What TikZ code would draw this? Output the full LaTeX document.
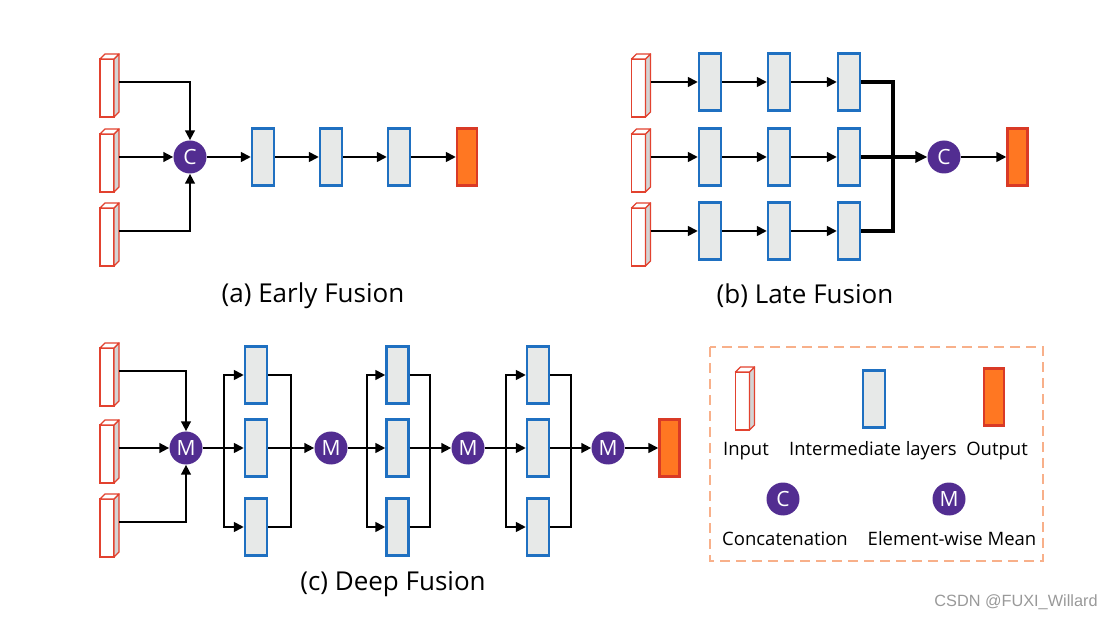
\documentclass[tikz,border=0pt]{standalone}
\usepackage{fontspec}
\setmainfont{Open Sans}
\newfontfamily\wmfont{Liberation Sans}
\usetikzlibrary{positioning,arrows.meta,calc}
\definecolor{inred}{HTML}{E2422F}
\definecolor{sidegray}{HTML}{D4D4D4}
\definecolor{layblue}{HTML}{1F70C1}
\definecolor{layfill}{HTML}{E7E9E8}
\definecolor{outfill}{HTML}{FF7722}
\definecolor{outred}{HTML}{D93A26}
\definecolor{oppurple}{HTML}{522D91}
\definecolor{legorange}{HTML}{F8B08A}
\tikzset{
  inbox/.style={draw=inred,line width=1.4pt,fill=white,minimum width=14pt,minimum height=58pt,inner sep=0pt,outer sep=0pt},
  inface/.style={draw=inred,line width=1.4pt,line join=round},
  layer/.style={draw=layblue,line width=2.2pt,fill=layfill,minimum width=22pt,minimum height=57pt,inner sep=0pt},
  outbox/.style={draw=outred,line width=2.2pt,fill=outfill,minimum width=20pt,minimum height=57pt,inner sep=0pt},
  op/.style={circle,fill=oppurple,text=white,minimum size=33pt,inner sep=0pt,font=\fontsize{21}{21}\selectfont},
  line/.style={line width=2.7pt,draw=black},
  flow/.style={line,-{Triangle[length=10pt,width=9.5pt]}},
  merge/.style={line width=3.6pt,draw=black},
  caption/.style={font=\fontsize{26}{30}\selectfont},
  legtext/.style={font=\fontsize{18.5}{22}\selectfont}
}
% input block with depth faces
\newcommand{\inputbox}[2]{%
  \node[inbox] (#1) at (#2) {};
  \draw[inface,fill=sidegray] (#1.north east) -- ++(5,-5) -- ++(0,58) -- (#1.south east) -- cycle;
  \draw[inface,fill=white] (#1.north west) -- ++(5,-5) -- ++(14,0) -- (#1.north east) -- cycle;
}
\begin{document}
\begin{tikzpicture}[x=1pt,y=-1pt]
\useasboundingbox (0,0) rectangle (1112,620);

% (a) Early Fusion
\inputbox{ea1}{107,88}
\inputbox{ea2}{107,163}
\inputbox{ea3}{107,237}
\node[op] (ec) at (190,157) {C};
\node[layer] (el1) at (263,157) {};
\node[layer] (el2) at (331,157) {};
\node[layer] (el3) at (399,157) {};
\node[outbox] (eo) at (467,157) {};
\draw[flow] ([shift={(5,-6)}]ea1.east) -| (ec);
\draw[flow] ([shift={(5,-6)}]ea2.east) -- (ec);
\draw[flow] ([shift={(5,-6)}]ea3.east) -| (ec);
\draw[flow] (ec) -- (el1);
\draw[flow] (el1) -- (el2);
\draw[flow] (el2) -- (el3);
\draw[flow] (el3) -- (eo);
\node[caption] (capa) at (313,296) {(a) Early Fusion};

% (b) Late Fusion
\foreach \r/\y in {1/82,2/157,3/231}{
  \inputbox{la\r}{638.5,\y+6}
  \node[layer] (l\r1) at (710,\y) {};
  \node[layer] (l\r2) at (779,\y) {};
  \node[layer] (l\r3) at (849,\y) {};
  \draw[flow] ([shift={(5,-6)}]la\r.east) -- (l\r1);
  \draw[flow] (l\r1) -- (l\r2);
  \draw[flow] (l\r2) -- (l\r3);
}
\node[op] (lc) at (944,157) {C};
\node[outbox] (lo) at (1017.5,157) {};
\coordinate (lm) at (893,157);
\draw[merge] (l13) -| (lm);
\draw[merge] (l33) -| (lm);
\draw[merge,-{Triangle[length=12pt,width=11pt]}] (l23) -- (lc);
\draw[flow] (lc) -- (lo);
\node[caption] (capb) at (805,296) {(b) Late Fusion};

% (c) Deep Fusion
\inputbox{da1}{107,377}
\inputbox{da2}{107,454}
\inputbox{da3}{107,528}
\node[op] (mean1) at (186,448) {M};
\node[op] (mean2) at (331,448) {M};
\node[op] (mean3) at (468,448) {M};
\node[op] (mean4) at (608,448) {M};
\node[outbox] (do) at (669.5,448) {};
\draw[flow] ([shift={(5,-6)}]da1.east) -| (mean1);
\draw[flow] ([shift={(5,-6)}]da2.east) -- (mean1);
\draw[flow] ([shift={(5,-6)}]da3.east) -| (mean1);
\foreach \i/\bx/\lx/\mx in {1/224/256/291, 2/367/397.5/430, 3/506/538/571}{
  \pgfmathtruncatemacro{\j}{\i+1}
  \node[layer] (top\i) at (\lx,375) {};
  \node[layer] (mid\i) at (\lx,448) {};
  \node[layer] (bot\i) at (\lx,527) {};
  \coordinate (bs\i) at (\bx,448);
  \coordinate (mg\i) at (\mx,448);
  \draw[flow] (mean\i) -- (mid\i);
  \draw[flow] (bs\i) |- (top\i);
  \draw[flow] (bs\i) |- (bot\i);
  \draw[line] (top\i) -| (mg\i);
  \draw[line] (bot\i) -| (mg\i);
  \draw[flow] (mid\i) -- (mean\j);
}
\draw[flow] (mean4) -- (do);
\node[caption] (capc) at (393,584) {(c) Deep Fusion};

% legend
\draw[legorange,line width=1.8pt,dash pattern=on 10pt off 6pt] (710,347) rectangle (1043,561);
\inputbox{gin}{742.5,401}
\node[layer] (glay) at (874,399) {};
\node[outbox] (gout) at (994,397) {};
\node[legtext] (tin) at (746,451) {Input};
\node[legtext] (tlay) at (873,451) {Intermediate layers};
\node[legtext] (tout) at (997,451) {Output};
\node[op] (gc) at (783,499) {C};
\node[op] (gm) at (949,499) {M};
\node[legtext] (tc) at (785,539) {Concatenation};
\node[legtext] (tm) at (952,539) {Element-wise Mean};

% watermark
\node[font=\wmfont\fontsize{16.3}{16}\selectfont,text=black!40] (wm) at (1016,602) {CSDN @FUXI\_Willard};
\end{tikzpicture}
\end{document}
